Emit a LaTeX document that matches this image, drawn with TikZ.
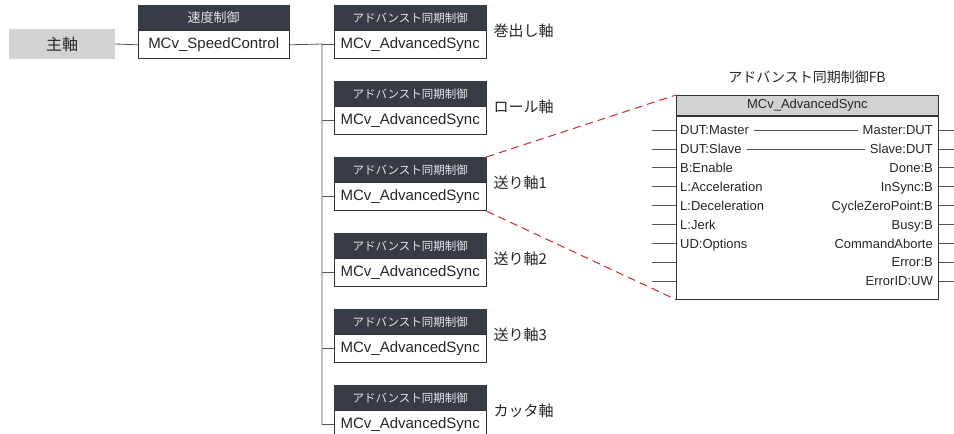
\documentclass[tikz,border=0pt]{standalone}
\usepackage{fontspec}
\setmainfont{Liberation Sans}
\newfontfamily\jp{Noto Sans CJK JP}
\usetikzlibrary{positioning}

\definecolor{hdrdark}{HTML}{363B46}
\definecolor{axgray}{HTML}{D3D3D3}
\definecolor{fbgray}{HTML}{D2D2D2}
\definecolor{lngray}{HTML}{555555}
\definecolor{dashred}{HTML}{D2353C}

\tikzset{
  conn/.style={draw=lngray, line width=0.8pt},
  hdr/.style={draw=hdrdark, fill=hdrdark, text=white!90!black, font=\jp\fontsize{11.5}{11.5}\selectfont,
    minimum width=152pt, minimum height=25pt, inner sep=0pt, anchor=north west},
  bodybox/.style={draw=black!80, fill=white, line width=0.8pt, text=black!85, font=\fontsize{15}{15}\selectfont,
    minimum width=152pt, minimum height=28pt, inner sep=0pt},
  axlab/.style={font=\jp\fontsize{15}{15}\selectfont, text=black!85, inner sep=0pt, anchor=west},
  mainax/.style={fill=axgray, font=\jp\fontsize{16}{16}\selectfont, text=black!85, minimum width=106pt, minimum height=30pt},
  fbtitle/.style={font=\jp\fontsize{14}{14}\selectfont, text=black!85, inner sep=0pt},
  fbhdr/.style={draw=black!80, fill=fbgray, line width=0.8pt, text=black!85, font=\fontsize{13}{13}\selectfont,
    minimum width=262pt, minimum height=20pt, inner sep=0pt},
  fbbody/.style={draw=black!80, fill=white, line width=0.8pt, minimum width=262pt, minimum height=183pt, inner sep=0pt},
  pin/.style={font=\fontsize{13}{13}\selectfont, text=black!85, inner sep=0pt, text height=9.3pt, text depth=0pt},
  reddash/.style={draw=dashred, dash pattern=on 8pt off 5pt, line width=1.1pt}
}

\begin{document}
\begin{tikzpicture}[x=1pt, y=-1pt]
  \useasboundingbox (0,0) rectangle (954,434);

  % 主軸 -> 速度制御
  \node[mainax] (main) at (62,44) {主軸};
  \node[hdr, minimum width=151pt, font=\jp\fontsize{13}{13}\selectfont] (sch) at (138,5) {速度制御};
  \node[bodybox, minimum width=151pt, below=0pt of sch] (scb) {MCv\_SpeedControl};
  \draw[conn] (main.east) -- (scb.west);

  % 分岐点
  \coordinate (trunk) at (322,44);

  % アドバンスト同期制御 x6
  \foreach \i/\y/\lab in {1/5/巻出し軸, 2/81/ロール軸, 3/157/送り軸1, 4/233/送り軸2, 5/309/送り軸3, 6/385/カッタ軸} {
    \node[hdr] (h\i) at (334,\y) {アドバンスト同期制御};
    \node[bodybox, below=0pt of h\i] (b\i) {MCv\_AdvancedSync};
    \node[axlab, right=7pt of h\i.south east] (l\i) {\lab};
    \draw[conn] (trunk |- b\i.west) -- (b\i.west);
  }
  \draw[conn] (scb.east) -- (trunk) -- (trunk |- b6.west);

  % FB
  \node[fbtitle] (fbt) at (807,77) {アドバンスト同期制御FB};
  \node[fbhdr, anchor=north west] (fbh) at (676,95) {MCv\_AdvancedSync};
  \node[fbbody, below=0pt of fbh] (fbb) {};

  \foreach \k/\l/\r in {1/DUT:Master/Master:DUT, 2/DUT:Slave/Slave:DUT, 3/B:Enable/Done:B,
      4/L:Acceleration/InSync:B, 5/L:Deceleration/CycleZeroPoint:B, 6/L:Jerk/Busy:B,
      7/UD:Options/CommandAborte, 8//Error:B, 9//ErrorID:UW} {
    \pgfmathsetmacro{\py}{130+(\k-1)*18.9}
    \node[pin, anchor=west] (pl\k) at (680,\py) {\l};
    \node[pin, anchor=east] (pr\k) at (933,\py) {\r};
    \draw[conn] (fbb.west |- pl\k.west) -- ++(-24,0);
    \draw[conn] (fbb.east |- pr\k.east) -- ++(24,0);
  }
  \draw[conn] ([xshift=5pt]pl1.east) -- ([xshift=-5pt]pr1.west);
  \draw[conn] ([xshift=5pt]pl2.east) -- ([xshift=-5pt]pr2.west);

  % 拡大線
  \draw[reddash] (h3.north east) -- (fbh.north west);
  \draw[reddash] (b3.south east) -- (fbb.south west);
\end{tikzpicture}
\end{document}
